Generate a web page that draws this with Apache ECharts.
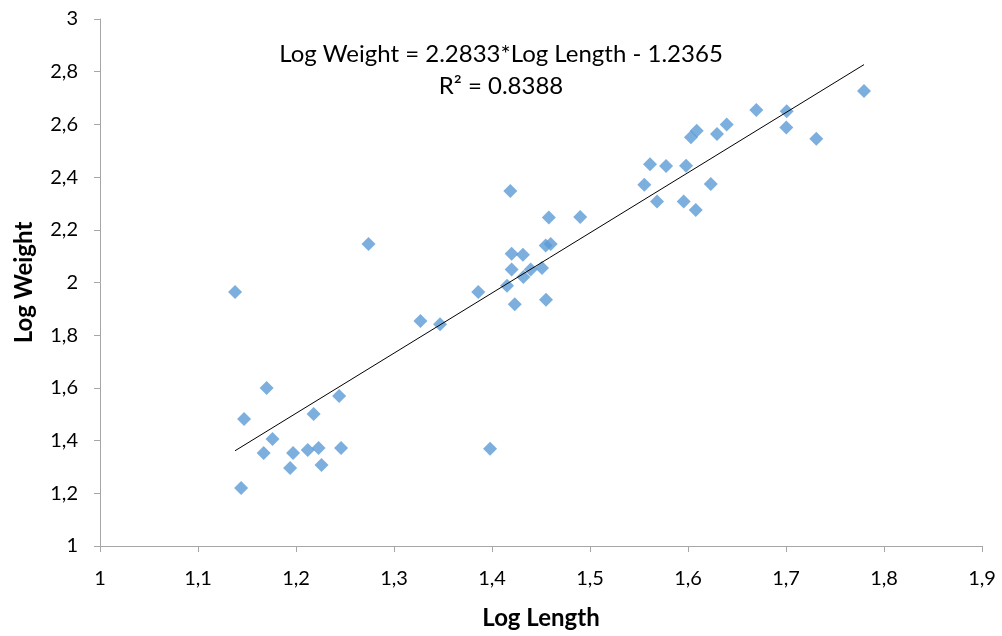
<!DOCTYPE html>
<html>
<head>
<meta charset="utf-8">
<script src="https://cdn.jsdelivr.net/npm/echarts@6/dist/echarts.min.js"></script>
<style>
  html, body { margin: 0; padding: 0; background: #fff; }
  #chart { width: 1002px; height: 636px; }
</style>
</head>
<body>
<div id="chart"></div>
<script>
// Log length / log weight observations
const logLength = [
  1.1378, 1.147, 1.144, 1.170, 1.176, 1.167, 1.197, 1.194, 1.212, 1.218,
  1.223, 1.226, 1.244, 1.246, 1.274, 1.327, 1.347, 1.386, 1.398, 1.4153,
  1.4187, 1.420, 1.4316, 1.420, 1.432, 1.4395, 1.451, 1.4232, 1.4551, 1.4548,
  1.4599, 1.458, 1.490, 1.5554, 1.5612, 1.5684, 1.5776, 1.5956, 1.598, 1.603,
  1.6079, 1.6089, 1.6232, 1.6296, 1.6395, 1.6697, 1.7003, 1.7007, 1.7309, 1.7796
];
const logWeight = [
  1.964, 1.482, 1.220, 1.600, 1.406, 1.353, 1.353, 1.296, 1.364, 1.501,
  1.372, 1.307, 1.569, 1.372, 2.146, 1.854, 1.842, 1.964, 1.369, 1.988,
  2.347, 2.109, 2.105, 2.049, 2.021, 2.049, 2.055, 1.917, 1.935, 2.140,
  2.146, 2.247, 2.249, 2.371, 2.449, 2.307, 2.442, 2.307, 2.443, 2.551,
  2.275, 2.576, 2.374, 2.564, 2.600, 2.655, 2.588, 2.650, 2.546, 2.727
];

// Linear trend fitted in log space
const slope = 2.2833;
const intercept = -1.2365;
const rSquared = 0.8388;

const xTicks = ['1', '1,1', '1,2', '1,3', '1,4', '1,5', '1,6', '1,7', '1,8', '1,9'];

const points = logLength.map((x, i) => [x, logWeight[i]]);
const xMin = Math.min(...logLength);
const xMax = Math.max(...logLength);
const trend = [xMin, xMax].map(x => [x, slope * x + intercept]);

const fmt = v => String(Math.round(v * 10) / 10).replace('.', ',');
const font = 'Lato, "Open Sans", sans-serif';

const chart = echarts.init(document.getElementById('chart'), null, { renderer: 'canvas' });
chart.setOption({
  animation: false,
  backgroundColor: '#ffffff',
  grid: { left: 100, right: 20, top: 19, bottom: 90, containLabel: false },
  xAxis: {
    type: 'value', min: 1, max: 1.9, interval: 0.1,
    name: 'Log Length', nameLocation: 'middle', nameGap: 60,
    nameTextStyle: { fontFamily: font, fontSize: 24, fontWeight: 'bold', color: '#000' },
    axisLine: { show: true, lineStyle: { color: '#a6a6a6', width: 1 } },
    axisTick: { show: true, inside: false, length: 6, lineStyle: { color: '#a6a6a6' } },
    splitLine: { show: false },
    axisLabel: {
      fontFamily: font, fontSize: 20, color: '#000', margin: 23,
      formatter: v => xTicks[Math.round((v - 1) * 10)]
    }
  },
  yAxis: {
    type: 'value', min: 1, max: 3, interval: 0.2,
    name: 'Log Weight', nameLocation: 'middle', nameGap: 64,
    nameTextStyle: { fontFamily: font, fontSize: 24, fontWeight: 'bold', color: '#000' },
    axisLine: { show: true, lineStyle: { color: '#a6a6a6', width: 1 } },
    axisTick: { show: true, inside: false, length: 6, lineStyle: { color: '#a6a6a6' } },
    splitLine: { show: false },
    axisLabel: { fontFamily: font, fontSize: 20, color: '#000', margin: 22, formatter: fmt }
  },
  series: [
    {
      type: 'scatter',
      data: points,
      symbol: 'diamond',
      symbolSize: 14,
      itemStyle: { color: '#5b9bd5' },
      z: 3
    },
    {
      type: 'line',
      data: trend,
      symbol: 'none',
      lineStyle: { color: '#000', width: 1 },
      z: 4
    }
  ],
  graphic: [
    {
      type: 'text', left: 'center', top: 42,
      style: {
        text: 'Log Weight = ' + slope + '*Log Length - ' + Math.abs(intercept),
        fontFamily: font, fontSize: 24, fill: '#000'
      }
    },
    {
      type: 'text', left: 'center', top: 74,
      style: {
        text: 'R\u00b2 = ' + rSquared,
        fontFamily: font, fontSize: 24, fill: '#000'
      }
    }
  ]
});
</script>
</body>
</html>
